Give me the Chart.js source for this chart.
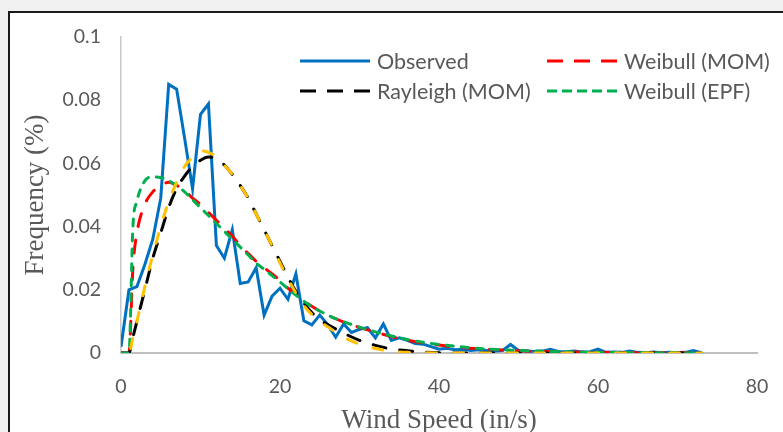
<!DOCTYPE html>
<html>
<head>
<meta charset="utf-8">
<script src="https://cdn.jsdelivr.net/npm/chart.js@4.4.1/dist/chart.umd.min.js"></script>
<style>
html, body { margin: 0; padding: 0; width: 783px; height: 432px; overflow: hidden; background: #f0f0f0; }
#frame { position: absolute; left: 8px; top: 11px; width: 820px; height: 460px; background: #fff; border: 2px solid #1a1a1a; }
#wrap { position: absolute; left: 0; top: 0; width: 783px; height: 432px; }
.item { position: absolute; height: 30px; display: flex; align-items: center; white-space: nowrap;
        font-family: Lato, sans-serif; font-size: 21.5px; color: #595959; }
.item svg { margin-right: 7px; }
</style>
</head>
<body>
<div id="frame"></div>
<div id="wrap"><canvas id="chart" width="783" height="432"></canvas></div>
<div id="legend"></div>
<script>
// wind speed bins (in/s) for the observed histogram
const windSpeed = [0,1,2,3,4,5,6,7,8,9,10,11,12,13,14,15,16,17,18,19,20,21,22,23,24,25,26,27,28,29,
  30,31,32,33,34,35,36,37,38,39,40,41,42,43,44,45,46,47,48,49,50,51,52,53,54,55,56,57,58,59,
  60,61,62,63,64,65,66,67,68,69,70,71,72,73];
const observed = [0.002,0.020,0.021,0.028,0.036,0.049,0.085,0.0835,0.068,0.052,0.0755,0.0788,0.034,0.030,0.039,
  0.022,0.0225,0.027,0.012,0.018,0.0205,0.017,0.025,0.0102,0.0089,0.012,0.009,0.005,0.0092,0.0065,
  0.0075,0.008,0.0048,0.0092,0.004,0.0048,0.004,0.003,0.0028,0.002,0.0012,0.0015,0.001,0.0012,0.0008,
  0.001,0.0008,0.0006,0.0008,0.0027,0.0008,0.0006,0.0005,0.0006,0.0012,0.0005,0.0004,0.0006,0.0003,0.0004,
  0.0012,0.0002,0.0003,0.0002,0.0006,0.0002,0.0001,0.0003,0.0001,0.0002,0.0001,0.0002,0.0008,0.0001];

// speeds where the fitted curves were read
const fitSpeed = [0,1,1.5,2,3,4,5,6,7,8,9,10,11,12,13,14,15,16,17,18,19,20,21,22,23,24,25,26,28,30,
  32,34,36,38,40,43,46,50,55,60,65,70,73];
const weibullMom = [0,0,0.027,0.038,0.047,0.051,0.053,0.054,0.053,0.0515,0.049,0.047,0.0445,0.042,0.0395,0.037,
  0.034,0.0315,0.029,0.027,0.025,0.023,0.0205,0.0185,0.0165,0.0148,0.0133,0.012,0.0098,0.0081,
  0.0066,0.0052,0.0041,0.0032,0.0025,0.0017,0.0012,0.0007,0.0004,0.0002,0.0001,0.00005,0.00003];
const rayleighMom = [0,0,0.005,0.010,0.020,0.030,0.038,0.046,0.052,0.056,0.059,0.061,0.062,0.0615,0.0595,0.0565,
  0.053,0.049,0.044,0.039,0.034,0.029,0.024,0.0195,0.0158,0.0128,0.0105,0.009,0.0063,0.004,
  0.0024,0.0013,0.0007,0.0003,0.0001,0,0,0,0,0,0,0,0];
const weibullEpf = [0,0,0.040,0.048,0.0545,0.0557,0.0555,0.0545,0.053,0.051,0.0485,0.046,0.0435,0.041,0.0385,0.036,
  0.0335,0.031,0.0285,0.0265,0.0245,0.0225,0.0203,0.0183,0.0164,0.0147,0.0133,0.012,0.0099,0.0082,
  0.0067,0.0054,0.0043,0.0034,0.0027,0.0019,0.0013,0.0008,0.0004,0.0002,0.0001,0.00005,0.00003];
// unlabelled orange curve
const extraFit = [0,0,0.005,0.010,0.021,0.031,0.040,0.048,0.054,0.059,0.062,0.064,0.0635,0.062,0.0595,0.0565,
  0.053,0.049,0.044,0.039,0.034,0.0285,0.0235,0.019,0.015,0.0122,0.010,0.0083,0.005,0.0028,
  0.0014,0.0006,0.0002,0.0001,0,0,0,0,0,0,0,0,0];

const yTickLabels = ['0','0.02','0.04','0.06','0.08','0.1'];

function pts(xs, ys) {
    return xs.map((x, i) => ({x: x, y: ys[i]}));
}

// legend, laid out in two columns like the original
const legendItems = [
    {label: 'Observed', color: '#0070C0', dash: null, left: 300, top: 46},
    {label: 'Weibull (MOM)', color: '#FF0000', dash: '16 11', left: 547, top: 46},
    {label: 'Rayleigh (MOM)', color: '#000000', dash: '16 11', left: 300, top: 76},
    {label: 'Weibull (EPF)', color: '#00B050', dash: '10 5', left: 547, top: 76}
];
const legend = document.getElementById('legend');
legendItems.forEach(it => {
    const d = document.createElement('div');
    d.className = 'item';
    d.style.left = it.left + 'px';
    d.style.top = it.top + 'px';
    d.innerHTML = '<svg width="70" height="6"><line x1="0" y1="3" x2="70" y2="3" stroke="' + it.color +
        '" stroke-width="3"' + (it.dash ? ' stroke-dasharray="' + it.dash + '"' : '') + '/></svg><span>' + it.label + '</span>';
    legend.appendChild(d);
});

const ctx = document.getElementById('chart').getContext('2d');
const chart = new Chart(ctx, {
    type: 'line',
    data: {
        datasets: [{
            label: 'Observed',
            data: pts(windSpeed, observed),
            borderColor: '#0070C0',
            borderWidth: 3,
            tension: 0,
            order: 5
        }, {
            label: 'Weibull (MOM)',
            data: pts(fitSpeed, weibullMom),
            borderColor: '#FF0000',
            borderWidth: 3,
            borderDash: [13, 14],
            borderCapStyle: 'round',
            cubicInterpolationMode: 'monotone',
            order: 4
        }, {
            label: 'Rayleigh (MOM)',
            data: pts(fitSpeed, rayleighMom),
            borderColor: '#000000',
            borderWidth: 3,
            borderDash: [13, 14],
            borderCapStyle: 'round',
            cubicInterpolationMode: 'monotone',
            order: 3
        }, {
            label: 'Weibull (EPF)',
            data: pts(fitSpeed, weibullEpf),
            borderColor: '#00B050',
            borderWidth: 3,
            borderDash: [7, 8],
            borderCapStyle: 'round',
            cubicInterpolationMode: 'monotone',
            order: 2
        }, {
            label: '',
            data: pts(fitSpeed, extraFit),
            borderColor: '#FFC000',
            borderWidth: 3,
            borderDash: [10, 17],
            borderDashOffset: 14,
            borderCapStyle: 'round',
            cubicInterpolationMode: 'monotone',
            order: 1
        }]
    },
    options: {
        responsive: false,
        animation: false,
        elements: {point: {radius: 0}},
        layout: {padding: {left: 10, right: 26, top: 37, bottom: 0}},
        plugins: {legend: {display: false}, tooltip: {enabled: false}},
        scales: {
            x: {
                type: 'linear',
                min: 0,
                max: 80,
                grid: {display: true, drawOnChartArea: false, drawTicks: true, tickLength: 8, color: 'rgba(0,0,0,0)'},
                border: {display: true, color: '#bfbfbf', width: 2},
                ticks: {stepSize: 20, padding: 14, color: '#595959', font: {family: 'Lato', size: 19.5}},
                title: {
                    display: true,
                    text: 'Wind Speed (in/s)',
                    color: '#595959',
                    font: {family: 'Liberation Serif', size: 27},
                    padding: {top: 0, bottom: -5}
                },
                afterFit: s => { s.height = 79; }
            },
            y: {
                min: 0,
                max: 0.1,
                grid: {display: false, drawTicks: false},
                border: {display: true, color: '#c8c8c8', width: 1.5},
                ticks: {
                    stepSize: 0.02,
                    padding: 20,
                    color: '#595959',
                    font: {family: 'Lato', size: 19.5},
                    callback: (v, i) => yTickLabels[i]
                },
                title: {
                    display: true,
                    text: 'Frequency (%)',
                    color: '#595959',
                    font: {family: 'Liberation Serif', size: 27},
                    padding: {top: 10, bottom: 0}
                },
                afterFit: s => { s.width = 111; }
            }
        }
    }
});
</script>
</body>
</html>
